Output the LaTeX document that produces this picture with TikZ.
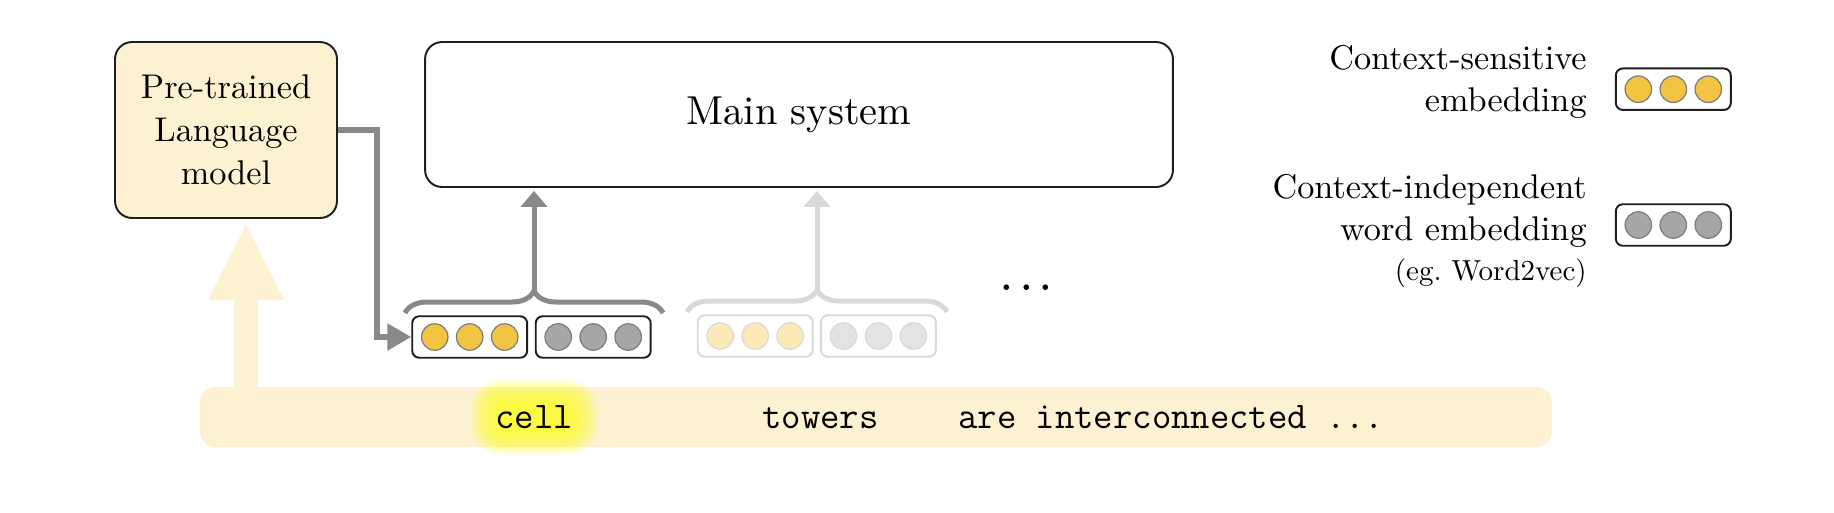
\documentclass[tikz,border=0pt]{standalone}
\usepackage{fontspec}
\setmainfont{lmroman10-regular.otf}
\usepackage{xcolor}
\definecolor{Cream}{RGB}{252,241,209}
\definecolor{Glow}{RGB}{255,255,30}
\definecolor{Gold}{RGB}{243,195,66}
\definecolor{Stone}{RGB}{166,166,166}
\definecolor{Rim}{RGB}{125,125,125}
\definecolor{Wire}{RGB}{137,137,137}
\definecolor{Ghost}{RGB}{217,217,217}
\definecolor{PaleGold}{RGB}{251,234,181}
\definecolor{PaleStone}{RGB}{227,227,227}
\definecolor{Ink}{RGB}{30,30,30}
\usetikzlibrary{arrows.meta, decorations.pathreplacing}

% one embedding: frame with three dots
\newcommand{\vecbox}[4]{%
	\node[vecframe, #3] (#1) at #2 {};
	\foreach \k in {1,2,3}
		\node[#4] (#1-\k) at ([xshift=(\k-2)*0.7cm]#1.center) {};
}

\begin{document}
\begin{tikzpicture}[x=0.02cm, y=-0.02cm,
		serif/.style={font=\fontsize{19.5}{24.4}\selectfont, inner sep=0},
		mono/.style={font=\fontsize{21.4}{24}\selectfont\ttfamily, inner sep=0},
		box/.style={draw=Ink, line width=1.1pt, rounded corners=0.34cm, inner sep=0, align=center},
		vecframe/.style={draw=Ink, fill=white, line width=1.1pt, rounded corners=0.14cm, minimum width=2.3cm, minimum height=0.83cm, inner sep=0},
		vecdot/.style={circle, inner sep=0, minimum size=0.53cm, line width=0.7pt},
		golddot/.style={vecdot, fill=Gold, draw=Rim},
		stonedot/.style={vecdot, fill=Stone, draw=Rim},
		palegolddot/.style={vecdot, fill=PaleGold, draw=Ghost},
		palestonedot/.style={vecdot, fill=PaleStone, draw=Ghost},
		faded/.style={draw=Ghost},
		brace/.style={decorate, decoration={brace, amplitude=0.44cm}, line width=0.1cm},
		lift/.style={-{Triangle[length=0.32cm, width=0.52cm]}, line width=0.1cm, shorten >=0.06cm},
		feed/.style={-{Triangle[length=0.48cm, width=0.52cm]}, draw=Wire, line width=0.11cm},
		bigarrow/.style={-{Triangle[length=1.54cm, width=1.4cm]}, draw=Cream, line width=0.466cm, shorten >=0.08cm}]
	
	\useasboundingbox (0,0) rectangle (1834,512);
	
	% Sentence band
	\node[fill=Cream, rounded corners=0.3cm, minimum width=27.04cm, minimum height=1.2cm, inner sep=0] (band) at (876,417) {};
	
	\foreach \r in {0,...,7}{
		\pgfmathsetmacro\w{63-4*\r}
		\pgfmathsetmacro\h{37-3.5*\r}
		\fill[Glow, opacity=0.18, rounded corners=\h*0.016cm] (534-\w,417-\h) rectangle (534+\w,417+\h);
	}
	
	\node[mono, anchor=base] (cell) at (534,428) {cell};
	\node[mono, anchor=base] (towers) at (820.5,428) {towers};
	\node[mono, anchor=base west] (rest) at (958,428) {are interconnected ...};
	
	% Boxes
	\node[box, fill=Cream, minimum width=4.44cm, minimum height=3.52cm, serif] (lm) at (226,130) {Pre-trained\\Language\\model};
	\node[box, fill=white, minimum width=14.96cm, minimum height=2.9cm, font=\fontsize{23}{28}\selectfont] (main) at (799,114.5) {Main system};
	
	% Input arrow
	\coordinate (feedin) at (246,392);
	\draw[bigarrow] (feedin) -- (feedin |- lm.south);
	
	% Embeddings
	\vecbox{cellA}{(469.7,337)}{}{golddot}
	\vecbox{cellB}{(593.2,337)}{}{stonedot}
	\vecbox{towA}{(755.2,336)}{faded}{palegolddot}
	\vecbox{towB}{(878.4,336)}{faded}{palestonedot}
	
	\node[font=\fontsize{30}{34}\selectfont, inner sep=0, anchor=base] (more) at (1026.7,290) {.\kern2.7pt.\kern2.7pt.};
	
	% Braces
	\draw[brace, draw=Wire] (405,313) -- (663,313);
	\draw[brace, draw=Ghost] (687,312) -- (947,312);
	\coordinate (tipA) at (534,291);
	\coordinate (tipB) at (817,290);
	\draw[lift, draw=Wire] (tipA) -- (tipA |- main.south);
	\draw[lift, draw=Ghost] (tipB) -- (tipB |- main.south);
	
	% Language model output
	\draw[feed] (lm.east) -- ++(39,0) |- (cellA.west);
	
	% Legend
	\node[serif, align=right, anchor=east] (lgsens) at (1587,82) {Context-sensitive\\embedding};
	\node[serif, align=right, anchor=east] (lgind) at (1587,231) {Context-independent\\word embedding\\[-1.6pt]{\fontsize{16.5}{20}\selectfont (eg.\ Word2vec)}};
	\vecbox{keyA}{(1673.3,89.2)}{}{golddot}
	\vecbox{keyB}{(1673.3,225)}{}{stonedot}
	
\end{tikzpicture}
\end{document}
